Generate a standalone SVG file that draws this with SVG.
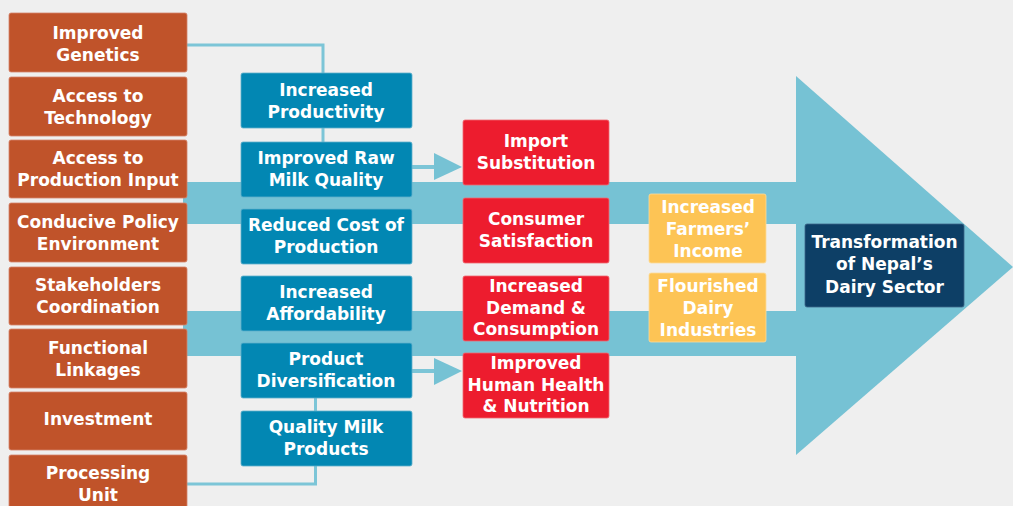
<svg xmlns="http://www.w3.org/2000/svg" width="1013" height="506" viewBox="0 0 1013 506">
<defs>
<style>
.bg{fill:#efefef}
.band{fill:#76c2d4}
.con{fill:none;stroke:#7cc5d7;stroke-width:3}
.ah{fill:#76c2d4}
.o{fill:#c0532a;stroke:#d4836a;stroke-width:0.8}
.b{fill:#0287b3;stroke:#5fb0cc;stroke-width:0.8}
.r{fill:#ed1c2e;stroke:#f06a72;stroke-width:0.8}
.y{fill:#fdc455;stroke:#fddc9a;stroke-width:0.8}
.d{fill:#0d3f66;stroke:#3d6688;stroke-width:0.8}
text{font-family:"DejaVu Sans","Open Sans",sans-serif;font-weight:700;font-size:17px;fill:#ffffff;text-anchor:middle}
</style>
</defs>
<rect class="bg" x="0" y="0" width="1013" height="506"/>
<g id="big-arrow">
<rect class="band" x="183" y="182" width="614" height="42"/>
<rect class="band" x="183" y="311" width="614" height="45"/>
<polygon class="band" points="796,76 1013,267 796,455"/>
</g>
<g id="connectors">
<polyline class="con" points="187,45 323,45 323,73"/>
<line class="con" x1="323" y1="128" x2="323" y2="142"/>
<line class="con" x1="315.5" y1="398" x2="315.5" y2="411"/>
<polyline class="con" points="187,484 315.5,484 315.5,466"/>
<line class="con" x1="412" y1="167" x2="436" y2="167" style="stroke-width:4"/>
<polygon class="ah" points="434,153 462,167 434,180"/>
<line class="con" x1="412" y1="371" x2="436" y2="371" style="stroke-width:4"/>
<polygon class="ah" points="434,358 462,371 434,385"/>
</g>
<g id="n-genetics"><rect class="o" x="9" y="13" width="178" height="59" rx="2"/><text x="98" y="38.5">Improved</text><text x="98" y="60.5">Genetics</text></g>
<g id="n-technology"><rect class="o" x="9" y="77" width="178" height="59" rx="2"/><text x="98" y="101.5">Access to</text><text x="98" y="123.5">Technology</text></g>
<g id="n-input"><rect class="o" x="9" y="140" width="178" height="58" rx="2"/><text x="98" y="164">Access to</text><text x="98" y="186">Production Input</text></g>
<g id="n-policy"><rect class="o" x="9" y="203" width="178" height="59" rx="2"/><text x="98" y="227.5">Conducive Policy</text><text x="98" y="249.5">Environment</text></g>
<g id="n-stakeholders"><rect class="o" x="9" y="267" width="178" height="58" rx="2"/><text x="98" y="291">Stakeholders</text><text x="98" y="313">Coordination</text></g>
<g id="n-linkages"><rect class="o" x="9" y="329" width="178" height="59" rx="2"/><text x="98" y="353.5">Functional</text><text x="98" y="375.5">Linkages</text></g>
<g id="n-investment"><rect class="o" x="9" y="392" width="178" height="58" rx="2"/><text x="98" y="424.5">Investment</text></g>
<g id="n-processing"><rect class="o" x="9" y="455" width="178" height="59" rx="2"/><text x="98" y="479">Processing</text><text x="98" y="501">Unit</text></g>
<g id="n-productivity"><rect class="b" x="241" y="73" width="171" height="55" rx="2"/><text x="326" y="95.5">Increased</text><text x="326" y="117.5">Productivity</text></g>
<g id="n-rawmilk"><rect class="b" x="241" y="142" width="171" height="55" rx="2"/><text x="326" y="164">Improved Raw</text><text x="326" y="186">Milk Quality</text></g>
<g id="n-cost"><rect class="b" x="241" y="209" width="171" height="55" rx="2"/><text x="326" y="231">Reduced Cost of</text><text x="326" y="253">Production</text></g>
<g id="n-affordability"><rect class="b" x="241" y="276" width="171" height="55" rx="2"/><text x="326" y="298">Increased</text><text x="326" y="320">Affordability</text></g>
<g id="n-diversification"><rect class="b" x="241" y="343" width="171" height="55" rx="2"/><text x="326" y="365">Product</text><text x="326" y="387">Diversification</text></g>
<g id="n-quality"><rect class="b" x="241" y="411" width="171" height="55" rx="2"/><text x="326" y="433">Quality Milk</text><text x="326" y="455">Products</text></g>
<g id="n-import"><rect class="r" x="463" y="120" width="146" height="65" rx="2"/><text x="536" y="147">Import</text><text x="536" y="169">Substitution</text></g>
<g id="n-consumer"><rect class="r" x="463" y="198" width="146" height="65" rx="2"/><text x="536" y="225">Consumer</text><text x="536" y="247">Satisfaction</text></g>
<g id="n-demand"><rect class="r" x="463" y="276" width="146" height="65" rx="2"/><text x="536" y="292">Increased</text><text x="536" y="313.5">Demand &amp;</text><text x="536" y="335">Consumption</text></g>
<g id="n-health"><rect class="r" x="463" y="353" width="146" height="65" rx="2"/><text x="536" y="369">Improved</text><text x="536" y="390.5">Human Health</text><text x="536" y="412">&amp; Nutrition</text></g>
<g id="n-income"><rect class="y" x="649" y="194" width="117" height="69" rx="2"/><text x="708" y="213">Increased</text><text x="708" y="235">Farmers’</text><text x="708" y="257">Income</text></g>
<g id="n-industries"><rect class="y" x="649" y="273" width="117" height="69" rx="2"/><text x="708" y="292">Flourished</text><text x="708" y="314">Dairy</text><text x="708" y="336">Industries</text></g>
<g id="n-transformation"><rect class="d" x="805" y="224" width="159" height="83" rx="2"/><text x="884.5" y="248">Transformation</text><text x="884.5" y="270">of Nepal’s</text><text x="884.5" y="292.5">Dairy Sector</text></g>
</svg>
